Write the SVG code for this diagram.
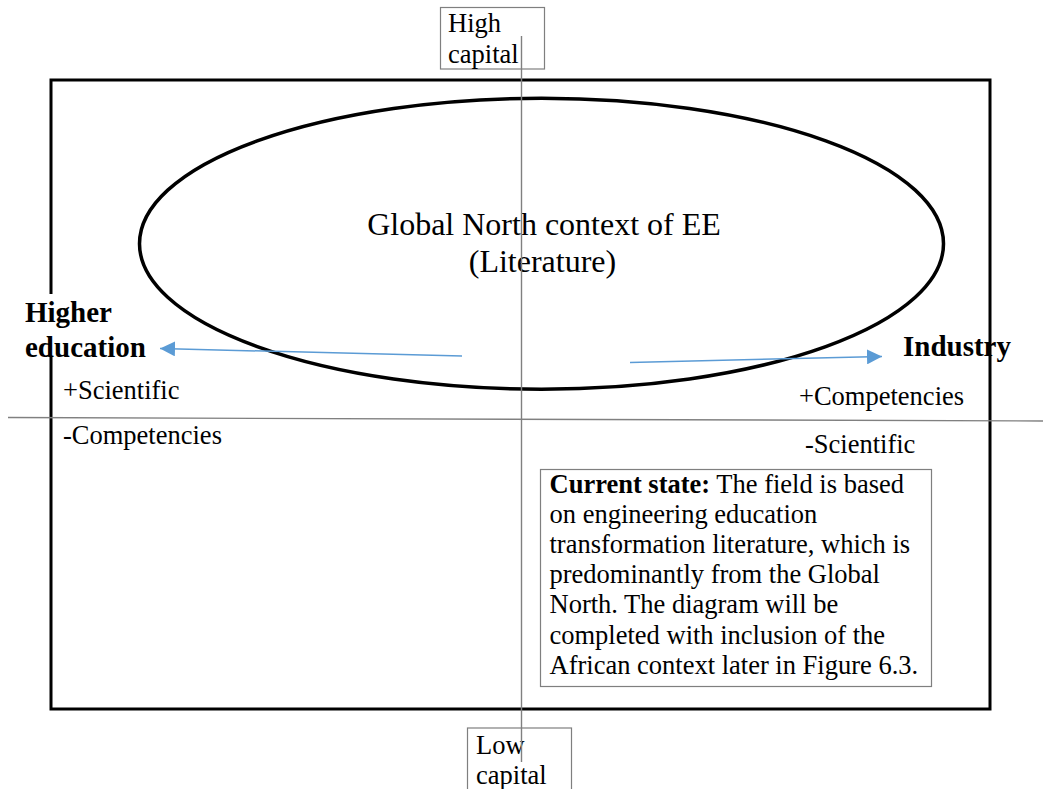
<svg xmlns="http://www.w3.org/2000/svg" width="1043" height="789" viewBox="0 0 1043 789">
<style>
text { font-family: "Liberation Serif", "Times New Roman", serif; fill: #000; }
.t { font-size: 26.5px; }
.big { font-size: 32px; }
.bold { font-size: 29px; font-weight: bold; }
.axis { stroke: #808080; stroke-width: 1.4; fill: none; }
.box { stroke: #7f7f7f; stroke-width: 1.2; fill: #fff; }
.arrow { stroke: #5B9BD5; stroke-width: 1.5; fill: none; marker-end: url(#ah); }
</style>
<defs>
<marker id="ah" markerUnits="userSpaceOnUse" markerWidth="16" markerHeight="15" refX="15" refY="7.5" orient="auto">
<path d="M0,0 L15,7.5 L0,15 z" fill="#5B9BD5"/>
</marker>
</defs>
<rect width="1043" height="789" fill="#fff"/>
<g id="frame">
<rect x="51" y="80" width="939" height="629" fill="none" stroke="#000" stroke-width="3"/>
</g>
<g id="ellipse-global-north">
<ellipse cx="541.5" cy="243.7" rx="402" ry="145.5" fill="none" stroke="#000" stroke-width="3.5"/>
<text class="big" x="544" y="235" text-anchor="middle">Global North context of EE</text>
<text class="big" x="542.5" y="271.5" text-anchor="middle">(Literature)</text>
</g>
<g id="axes">
<line class="axis" x1="8" y1="417.5" x2="1043" y2="421"/>
</g>
<g id="high-capital">
<rect class="box" x="440.5" y="7.5" width="104" height="61.5"/>
<text class="t" x="448" y="31.5">High</text>
<text class="t" x="448" y="62.5">capital</text>
</g>
<g id="low-capital">
<rect class="box" x="467.5" y="728" width="104" height="70"/>
<text class="t" x="476" y="753.5">Low</text>
<text class="t" x="476" y="783.5">capital</text>
</g>
<g id="vertical-axis">
<line class="axis" x1="521.5" y1="36" x2="521.5" y2="762"/>
</g>
<g id="higher-education">
<rect x="20" y="294" width="132" height="62" fill="#fff"/>
<text class="bold" x="25" y="322">Higher</text>
<text class="bold" x="25" y="357">education</text>
<text class="t" x="63" y="399">+Scientific</text>
<text class="t" x="63" y="443.5">-Competencies</text>
</g>
<g id="industry">
<text class="bold" x="903" y="356">Industry</text>
<text class="t" x="799" y="405">+Competencies</text>
<text class="t" x="805" y="453">-Scientific</text>
</g>
<g id="connectors">
<path class="arrow" d="M462,356 L160,348.5"/>
<path class="arrow" d="M630,362.5 L882,356.5"/>
</g>
<g id="current-state">
<rect class="box" x="540.5" y="469.5" width="391" height="217"/>
<text class="t" x="549.5" y="492.5"><tspan font-weight="bold">Current state:</tspan> The field is based</text>
<text class="t" x="549.5" y="522.7">on engineering education</text>
<text class="t" x="549.5" y="552.9">transformation literature, which is</text>
<text class="t" x="549.5" y="583.1">predominantly from the Global</text>
<text class="t" x="549.5" y="613.3">North. The diagram will be</text>
<text class="t" x="549.5" y="643.5">completed with inclusion of the</text>
<text class="t" x="549.5" y="673.7">African context later in Figure 6.3.</text>
</g>
</svg>
